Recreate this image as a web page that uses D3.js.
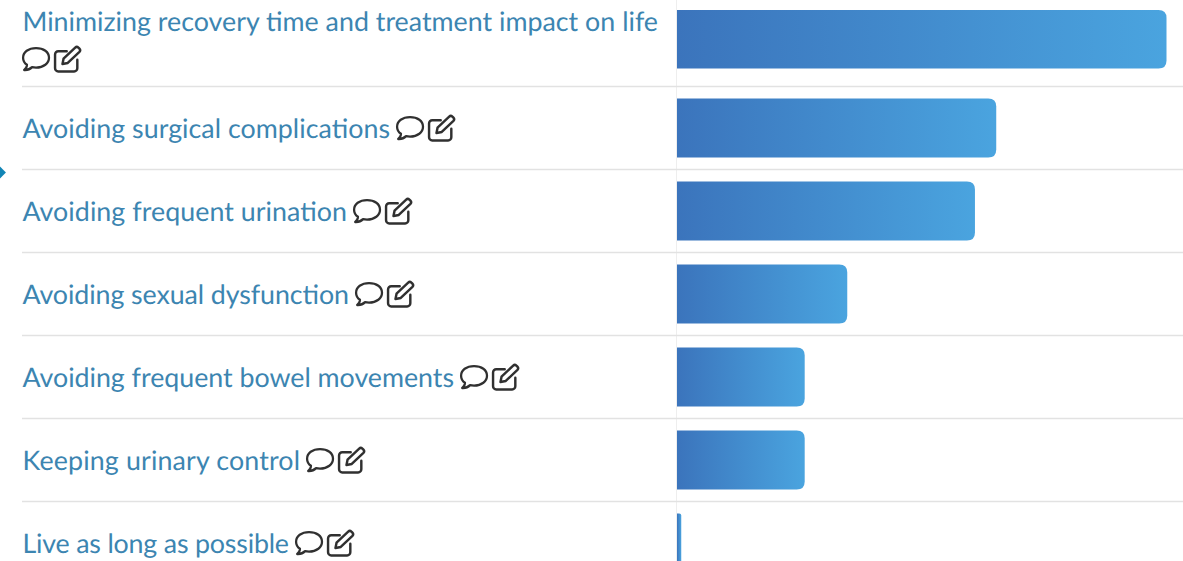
<!DOCTYPE html>
<html><head><meta charset="utf-8">
<script src="https://cdn.jsdelivr.net/npm/d3@7"></script>
<style>html,body{margin:0;padding:0;background:#fff;overflow:hidden}svg{display:block}text{text-rendering:geometricPrecision}</style>
</head><body><svg id="c" width="1183" height="561"></svg>
<script>
const categories=["Minimizing recovery time and treatment impact on life","Avoiding surgical complications","Avoiding frequent urination","Avoiding sexual dysfunction","Avoiding frequent bowel movements","Keeping urinary control","Live as long as possible"];
const values=[23,15,14,8,6,6,0.2];
const rowTops=[0,86,169,252,335,418,501];
const labelY=[31,138,221,304,387,470,553];
const labelEnd=[658,390,347,349,454,300,289];
const svg=d3.select("#c");
const x=d3.scaleLinear().domain([0,23]).range([677,1166.5]);
const H=561;
const defs=svg.append("defs");
values.forEach((v,i)=>{const g=defs.append("linearGradient").attr("id","g"+i).attr("x1",0).attr("x2",1).attr("y1",0).attr("y2",0);
 g.append("stop").attr("offset",0).attr("stop-color","#3b74bc");g.append("stop").attr("offset",1).attr("stop-color","#4aa4df");});
svg.append("line").attr("x1",676.5).attr("x2",676.5).attr("y1",0).attr("y2",H).attr("stroke","#eeeeee");
svg.selectAll("line.sep").data(rowTops.slice(1)).join("line").attr("class","sep").attr("x1",22).attr("x2",1183).attr("y1",d=>d+.5).attr("y2",d=>d+.5).attr("stroke","#e2e2e2").attr("stroke-width",1.3);
const barTop=i=>i===0?10:rowTops[i]+12.5;
const rr=(x0,y,w,h,r)=>{r=Math.min(r,w);return `M${x0},${y}H${x0+w-r}Q${x0+w},${y} ${x0+w},${y+r}V${y+h-r}Q${x0+w},${y+h} ${x0+w-r},${y+h}H${x0}Z`;};
svg.selectAll("path.bar").data(values).join("path").attr("class","bar")
 .attr("d",(d,i)=>rr(x(0),barTop(i),x(d)-x(0),i===6?80:(i===0?58.5:59),i===6?2:8))
 .attr("fill",(d,i)=>`url(#g${i})`);
const lab=svg.selectAll("text.lab").data(categories).join("text").attr("class","lab")
 .attr("x",22.5).attr("y",(d,i)=>labelY[i]).attr("font-family","Lato").attr("font-size",26.8).attr("fill","#3c85b1")
 .attr("textLength",(d,i)=>labelEnd[i]-22.5).attr("lengthAdjust","spacing").text(d=>d);
function icons(g){
 g.append("path").attr("transform","translate(0,-1) scale(1.08,1.12)").attr("d","M13 1C6 1 1 4.6 1 9.5c0 2.9 1.6 5 3.6 6.4-.1 1.9-1 3.600-2.600 4.600 2.900.2 5.600-.8 7.300-2.500 1.200.3 2.400.4 3.700.4 7 0 12-3.900 12-8.900S20 1 13 1z")
  .attr("fill","none").attr("stroke","#303030").attr("stroke-width",2.1).attr("stroke-linejoin","round");
 const e=g.append("g").attr("transform","translate(32,-2) scale(1.06)").attr("fill","none").attr("stroke","#303030").attr("stroke-width",2.3).attr("stroke-linecap","round").attr("stroke-linejoin","round");
 e.append("path").attr("d","M12 5H4a3 3 0 0 0-3 3v13a3 3 0 0 0 3 3h15a3 3 0 0 0 3-3v-8");
 e.append("path").attr("d","M8 17l1-5L20 1.500a2.200 2.200 0 0 1 3 0l1 1a2.200 2.200 0 0 1 0 3L13 16z");
}
categories.forEach((d,i)=>{
 const ix=i===0?22:labelEnd[i]+6, iy=i===0?48:labelY[i]-21;
 icons(svg.append("g").attr("class","icons").attr("transform",`translate(${ix},${iy})`));
});
svg.append("path").attr("d",d3.symbol(d3.symbolSquare,70)()).attr("transform","translate(0,172.500) rotate(45)").attr("fill","#1285b5");
</script></body></html>
